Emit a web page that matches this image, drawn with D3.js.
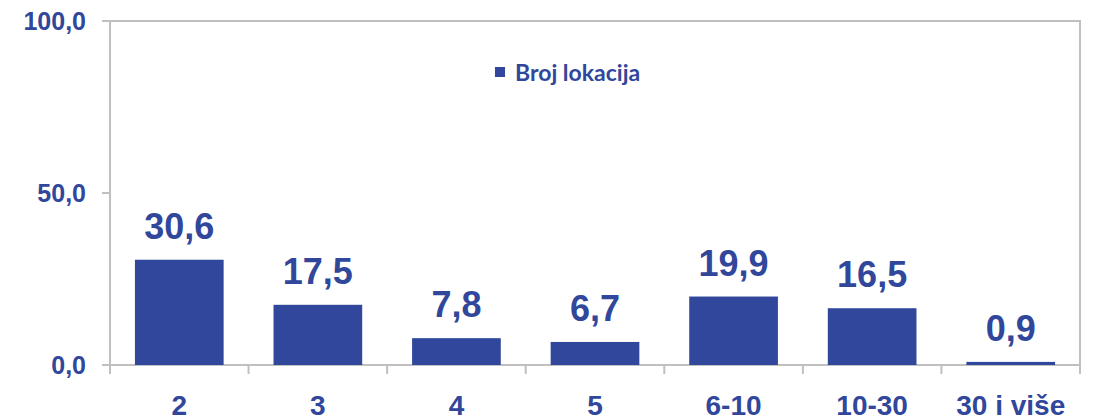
<!DOCTYPE html>
<html>
<head>
<meta charset="utf-8">
<script src="https://cdn.jsdelivr.net/npm/d3@7"></script>
<style>
  body { margin: 0; background: #fff; }
  svg text { font-family: Arial, "Liberation Sans", sans-serif; font-weight: bold; fill: #30479b; }
</style>
</head>
<body>
<svg width="1094" height="420"></svg>
<script>
// chart data
const categories = ["2", "3", "4", "5", "6-10", "10-30", "30 i više"];
const values = [30.6, 17.5, 7.8, 6.7, 19.9, 16.5, 0.9];
const yTicks = [0, 50, 100];
const seriesName = "Broj lokacija";

const blue = "#30479b";
const grey = "#c0c0c0";

// plot area
const plotLeft = 110, plotRight = 1080, plotTop = 21, plotBottom = 365;

const svg = d3.select("svg");

const x = d3.scaleBand()
  .domain(categories)
  .range([plotLeft, plotRight])
  .paddingInner(0.36)
  .paddingOuter(0.18);
const y = d3.scaleLinear().domain([0, 100]).range([plotBottom, plotTop]);

const fmt = d => d3.format(".1f")(d).replace(".", ",");

// frame
svg.append("rect")
  .attr("x", plotLeft).attr("y", plotTop)
  .attr("width", plotRight - plotLeft).attr("height", plotBottom - plotTop)
  .attr("fill", "none")
  .attr("stroke", grey)
  .attr("stroke-width", 2);

// y axis ticks + labels
const yAxis = svg.append("g");
yAxis.selectAll("line")
  .data(yTicks)
  .enter()
  .append("line")
  .attr("x1", plotLeft - 8).attr("x2", plotLeft)
  .attr("y1", d => y(d)).attr("y2", d => y(d))
  .attr("stroke", grey).attr("stroke-width", 2);
yAxis.selectAll("text")
  .data(yTicks)
  .enter()
  .append("text")
  .attr("x", plotLeft - 24)
  .attr("y", d => y(d) + 9)
  .attr("text-anchor", "end")
  .style("font-size", "25px")
  .text(fmt);

// x axis ticks at category boundaries
const bounds = d3.range(categories.length + 1)
  .map(i => plotLeft + i * (plotRight - plotLeft) / categories.length);
svg.append("g").selectAll("line")
  .data(bounds)
  .enter()
  .append("line")
  .attr("x1", d => d).attr("x2", d => d)
  .attr("y1", plotBottom).attr("y2", plotBottom + 9)
  .attr("stroke", grey).attr("stroke-width", 2);

svg.append("g").selectAll("text")
  .data(categories)
  .enter()
  .append("text")
  .attr("x", d => x(d) + x.bandwidth() / 2)
  .attr("y", 415)
  .attr("text-anchor", "middle")
  .style("font-size", "28px")
  .text(d => d);

// bars
const rows = categories.map((c, i) => ({ cat: c, val: values[i] }));
svg.append("g").selectAll("rect")
  .data(rows)
  .enter()
  .append("rect")
  .attr("x", d => x(d.cat))
  .attr("y", d => y(d.val))
  .attr("width", x.bandwidth())
  .attr("height", d => y(0) - y(d.val))
  .attr("fill", blue);

// value labels
svg.append("g").selectAll("text")
  .data(rows)
  .enter()
  .append("text")
  .attr("x", d => x(d.cat) + x.bandwidth() / 2)
  .attr("y", d => y(d.val) - 21)
  .attr("text-anchor", "middle")
  .style("font-size", "36px")
  .text(d => fmt(d.val));

// legend
const legend = svg.append("g").attr("transform", "translate(495,67)");
legend.append("rect")
  .attr("width", 10).attr("height", 10)
  .attr("fill", blue);
legend.append("text")
  .attr("x", 20).attr("y", 14)
  .style("font-family", "Lato, 'Open Sans', sans-serif")
  .style("font-size", "23px")
  .text(seriesName);
</script>
</body>
</html>
